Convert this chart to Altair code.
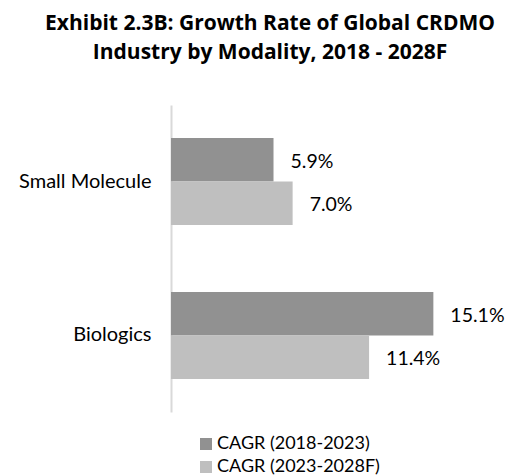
import altair as alt
import pandas as pd

categories = ["Small Molecule", "Biologics"]
series = ["CAGR (2018-2023)", "CAGR (2023-2028F)"]
cagr_2018_2023 = [5.9, 15.1]
cagr_2023_2028 = [7.0, 11.4]
colors = ["#919191", "#bfbfbf"]

rows = []
for i, c in enumerate(categories):
    rows.append({"Modality": c, "Series": series[0], "Value": cagr_2018_2023[i]})
    rows.append({"Modality": c, "Series": series[1], "Value": cagr_2023_2028[i]})
df = pd.DataFrame(rows)

FONT = "Lato"

y_enc = alt.Y(
    "Modality:N",
    sort=categories,
    scale=alt.Scale(paddingInner=0.435, paddingOuter=0.215),
    axis=alt.Axis(
        title=None,
        domain=True,
        domainColor="#d9d9d9",
        domainWidth=2,
        ticks=False,
        grid=False,
        labelPadding=20,
        labelFontSize=20,
        labelFont=FONT,
        labelColor="#000000",
    ),
)
yoff = alt.YOffset("Series:N", sort=series, scale=alt.Scale(paddingInner=0, paddingOuter=0))
x_enc = alt.X("Value:Q", scale=alt.Scale(domain=[0, 16], nice=False, zero=True), axis=None)

bars = alt.Chart(df).mark_bar().encode(
    y=y_enc,
    yOffset=yoff,
    x=x_enc,
    color=alt.Color(
        "Series:N",
        sort=series,
        scale=alt.Scale(domain=series, range=colors),
        legend=alt.Legend(
            title=None,
            orient="none",
            legendX=26,
            legendY=330,
            symbolType="square",
            symbolSize=144,
            symbolStrokeWidth=0,
            labelFont=FONT,
            labelFontSize=18,
            labelColor="#000000",
            labelLimit=400,
            rowPadding=5,
            symbolOffset=0,
            labelOffset=2,
        ),
    ),
)

labels = alt.Chart(df).transform_calculate(
    Label="format(datum.Value, '.1f') + '%'"
).mark_text(
    align="left", baseline="middle", dx=17, dy=2, font=FONT, fontSize=19.5, color="#000000"
).encode(
    y=alt.Y("Modality:N", sort=categories),
    yOffset=alt.YOffset("Series:N", sort=series),
    x=alt.X("Value:Q"),
    text="Label:N",
)

chart = alt.layer(bars, labels).properties(
    width=278,
    height=307,
    title=alt.TitleParams(
        text=["Exhibit 2.3B: Growth Rate of Global CRDMO", "Industry by Modality, 2018 - 2028F"],
        font="Open Sans",
        fontSize=21,
        fontWeight="bold",
        lineHeight=29,
        anchor="middle",
        dx=-40,
        offset=42,
        color="#000000",
    ),
    autosize=alt.AutoSizeParams(type="none"),
    padding={"left": 163, "top": 97, "right": 60, "bottom": 70},
).configure_view(stroke=None)

chart.save("out.html", embed_options={"renderer": "svg", "actions": False})
